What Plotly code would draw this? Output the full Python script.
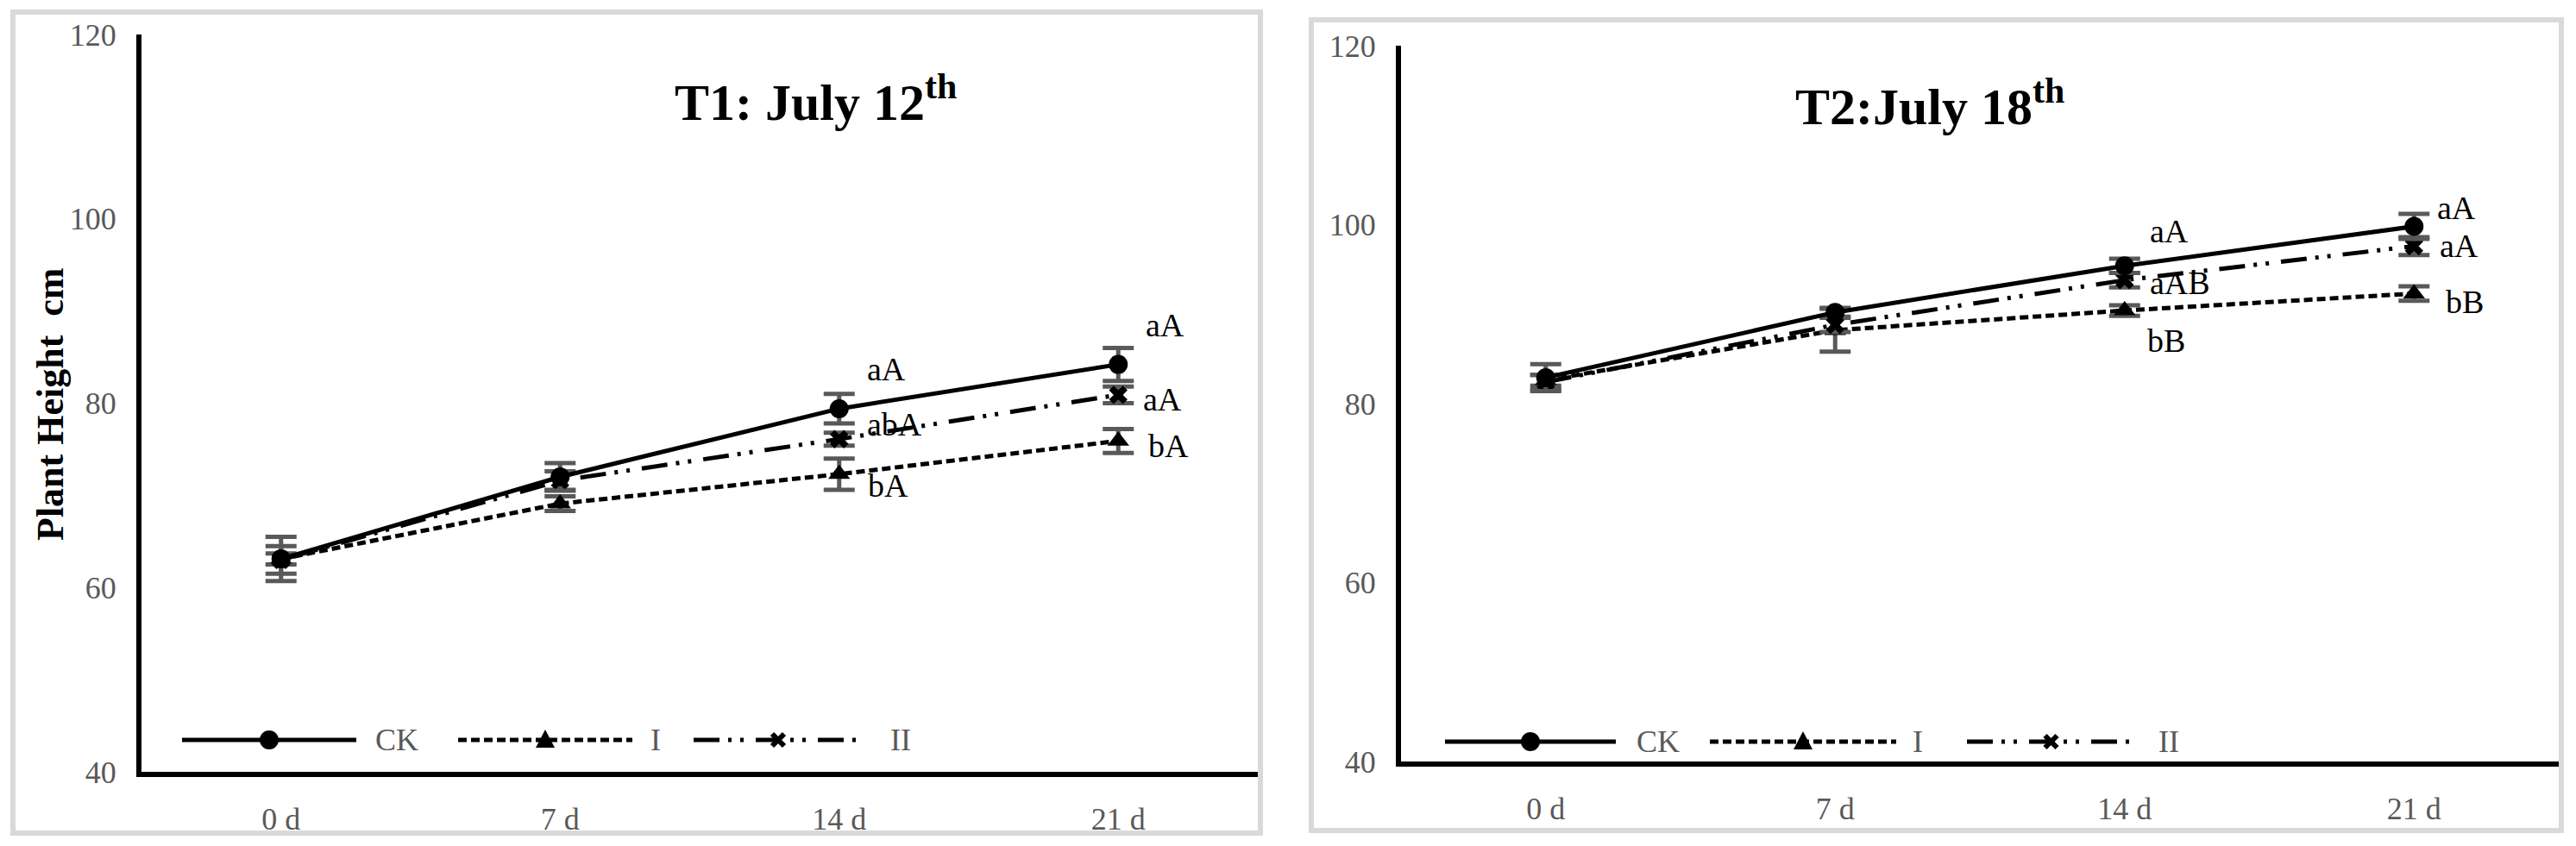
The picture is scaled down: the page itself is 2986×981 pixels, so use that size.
import plotly.graph_objects as go

# plant height (cm) per day after treatment, mean and error
days = ["0 d", "7 d", "14 d", "21 d"]

t1_ck = [63.1, 72.0, 79.4, 84.2]
t1_ck_err = [2.4, 1.5, 1.6, 1.8]
t1_i = [63.1, 69.1, 72.3, 75.9]
t1_i_err = [0.6, 0.8, 1.7, 1.3]
t1_ii = [63.0, 71.6, 76.1, 80.9]
t1_ii_err = [1.5, 1.0, 0.7, 0.9]

t2_ck = [82.9, 90.2, 95.4, 99.8]
t2_ck_err = [1.5, 0.5, 0.8, 1.4]
t2_i = [82.6, 88.2, 90.4, 92.3]
t2_i_err = [0.6, 2.4, 0.6, 0.8]
t2_ii = [82.4, 88.8, 93.8, 97.6]
t2_ii_err = [0.8, 0.8, 0.8, 1.0]

# significance letters (only 14 d and 21 d are labelled)
t1_sig_ck = ["", "", "aA", "aA"]
t1_sig_i = ["", "", "bA", "bA"]
t1_sig_ii = ["", "", "abA", "aA"]
t2_sig_ck = ["", "", "aA", "aA"]
t2_sig_i = ["", "", "bB", "bB"]
t2_sig_ii = ["", "", "aAB", "aA"]

yticks = [40, 60, 80, 100, 120]
series_names = ["CK", "I", "II"]

W, H = 2986, 981
SERIF = "Liberation Serif"
GREY = "#595959"


def px(x):
    return x / W


def py(y):
    return 1 - y / H


styles = {
    "CK": dict(dash="solid", symbol="circle", size=22),
    "I": dict(dash="10px,5px", symbol="triangle-up", size=22),
    "II": dict(dash="30px,10px,4px,10px,4px,14px", symbol="x", size=19),
}

fig = go.Figure()

panels = [
    ("x", "y", {"CK": (t1_ck, t1_ck_err), "I": (t1_i, t1_i_err), "II": (t1_ii, t1_ii_err)}),
    ("x2", "y2", {"CK": (t2_ck, t2_ck_err), "I": (t2_i, t2_i_err), "II": (t2_ii, t2_ii_err)}),
]

for xa, ya, data in panels:
    for name in ["I", "II", "CK"]:
        vals, err = data[name]
        st = styles[name]
        fig.add_trace(go.Scatter(
            x=days, y=vals, name=name, xaxis=xa, yaxis=ya, mode="lines+markers",
            line=dict(color="black", width=5, dash=st["dash"]),
            marker=dict(symbol=st["symbol"], size=st["size"], color="black"),
            error_y=dict(type="data", array=err, visible=True, color=GREY, thickness=5, width=18),
            showlegend=False,
        ))

axis_common = dict(showgrid=False, zeroline=False, showline=True, linecolor="black", linewidth=6,
                   ticks="outside", tickcolor="rgba(0,0,0,0)", automargin=False,
                   tickfont=dict(family=SERIF, size=36, color=GREY))

fig.update_layout(
    template="none",
    width=W, height=H, margin=dict(l=0, r=0, t=0, b=0, pad=0), autosize=False,
    paper_bgcolor="white", plot_bgcolor="white", showlegend=False,
    xaxis=dict(domain=[px(164), px(1458)], anchor="y", type="category", range=[-0.5, 3.5],
               ticklen=18, **axis_common),
    yaxis=dict(domain=[py(895), py(40)], anchor="x", range=[40, 120], tickvals=yticks,
               ticklen=16, **axis_common),
    xaxis2=dict(domain=[px(1624), px(2966)], anchor="y2", type="category", range=[-0.5, 3.5],
                ticklen=18, **axis_common),
    yaxis2=dict(domain=[py(883), py(53)], anchor="x2", range=[40, 120], tickvals=yticks,
                ticklen=16, **axis_common),
)

# grey frames round each chart
fig.add_shape(type="rect", xref="paper", yref="paper", x0=px(15), x1=px(1461), y0=py(966), y1=py(14),
              line=dict(color="#d9d9d9", width=6), layer="below")
fig.add_shape(type="rect", xref="paper", yref="paper", x0=px(1520), x1=px(2969), y0=py(963), y1=py(23),
              line=dict(color="#d9d9d9", width=6), layer="below")

# titles
title_font = dict(family=SERIF, size=60, color="black")
fig.add_annotation(text="<b>T1: July 12<sup>th</sup></b>", xref="paper", yref="paper",
                   x=px(945), y=py(114), xanchor="center", yanchor="middle", showarrow=False, font=title_font)
fig.add_annotation(text="<b>T2:July 18<sup>th</sup></b>", xref="paper", yref="paper",
                   x=px(2237), y=py(120), xanchor="center", yanchor="middle", showarrow=False, font=title_font)
fig.add_annotation(text="<b>Plant Height  cm</b>", xref="paper", yref="paper", textangle=-90,
                   x=px(58), y=py(469), xanchor="center", yanchor="middle", showarrow=False,
                   font=dict(family=SERIF, size=44, color="black"))

# significance letters next to the points
letter_shift = {
    ("x", "CK"): [(0, 0), (0, 0), (30, 46), (30, 46)],
    ("x", "II"): [(0, 0), (0, 0), (30, 17), (27, -5)],
    ("x", "I"): [(0, 0), (0, 0), (31, -13), (33, -6)],
    ("x2", "CK"): [(0, 0), (0, 0), (27, 40), (25, 22)],
    ("x2", "II"): [(0, 0), (0, 0), (27, -3), (28, 0)],
    ("x2", "I"): [(0, 0), (0, 0), (24, -35), (35, -10)],
}
letters = {
    ("x", "CK"): t1_sig_ck, ("x", "I"): t1_sig_i, ("x", "II"): t1_sig_ii,
    ("x2", "CK"): t2_sig_ck, ("x2", "I"): t2_sig_i, ("x2", "II"): t2_sig_ii,
}
for xa, ya, data in panels:
    for name in series_names:
        vals = data[name][0]
        for k, lab in enumerate(letters[(xa, name)]):
            if not lab:
                continue
            dx, dy = letter_shift[(xa, name)][k]
            fig.add_annotation(text=lab, xref=xa, yref=ya, x=days[k], y=vals[k],
                               xanchor="left", yanchor="middle",
                               xshift=dx, yshift=dy, showarrow=False,
                               font=dict(family=SERIF, size=38, color="black"))

# hand drawn legend rows inside each chart
legend_rows = [
    (858, [(211, 413, 433), (531, 733, 752), (804, 1000, 1030)]),
    (860, [(1675, 1873, 1895), (1982, 2198, 2215), (2280, 2475, 2500)]),
]
for ly, items in legend_rows:
    for name, (x0, x1, tx) in zip(series_names, items):
        fig.add_shape(type="line", xref="paper", yref="paper", x0=px(x0), x1=px(x1), y0=py(ly), y1=py(ly),
                      line=dict(color="black", width=5, dash=styles[name]["dash"]))
        mark = dict(xref="paper", yref="paper", xsizemode="pixel", ysizemode="pixel",
                    xanchor=px((x0 + x1) / 2), yanchor=py(ly))
        if name == "CK":
            fig.add_shape(type="circle", x0=-11, x1=11, y0=-11, y1=11, fillcolor="black",
                          line=dict(width=0), **mark)
        elif name == "I":
            fig.add_shape(type="path", path="M -11,-9 L 11,-9 L 0,12 Z", fillcolor="black",
                          line=dict(width=0), **mark)
        else:
            fig.add_shape(type="path", path="M -7,-7 L 7,7 M -7,7 L 7,-7",
                          line=dict(color="black", width=6), **mark)
        fig.add_annotation(text=name, xref="paper", yref="paper", x=px(tx), y=py(ly),
                           xanchor="left", yanchor="middle",
                           showarrow=False, font=dict(family=SERIF, size=36, color=GREY))

# drop the default page margin so the figure sits at the window corner
fig.write_html("out.html", config={"displayModeBar": False},
               post_script="document.body.style.margin='0';")
